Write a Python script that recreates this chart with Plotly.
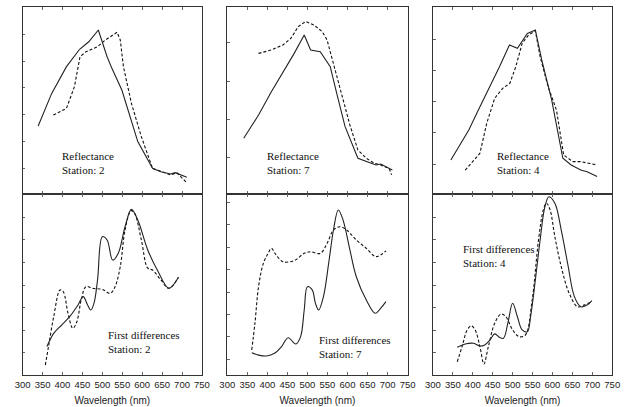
import plotly.graph_objects as go

# ---------------- data (arbitrary reflectance units) ----------------
# Station 2 reflectance
r2_sol_x = [339, 373, 410, 443, 466, 490, 512, 524, 549, 569, 589, 626, 647, 671, 683, 712]
r2_sol_y = [36.4, 53.8, 68.1, 77.4, 81.4, 87.7, 73.4, 67.2, 55.6, 41.3, 28.0, 13.7, 11.9, 10.7, 11.4, 8.9]
r2_das_x = [377, 410, 430, 444, 459, 488, 508, 537, 545, 553, 573, 598, 626, 647, 671, 687, 712]
r2_das_y = [42.2, 45.8, 57.4, 73.4, 76.1, 78.8, 82.4, 86.5, 82.4, 68.1, 48.5, 30.6, 13.7, 11.9, 10.2, 11.4, 6.0]
# Station 7 reflectance
r7_sol_x = [341, 378, 410, 443, 467, 492, 508, 532, 557, 573, 594, 626, 647, 671, 683, 712]
r7_sol_y = [29.8, 42.2, 54.7, 66.3, 75.2, 85.0, 77.0, 76.1, 68.1, 53.9, 36.0, 19.1, 17.3, 15.5, 16.0, 12.8]
r7_das_x = [378, 410, 439, 459, 477, 496, 516, 537, 549, 565, 581, 606, 626, 647, 667, 683, 704, 710]
r7_das_y = [75.2, 77.0, 79.7, 83.3, 89.5, 92.3, 90.4, 86.8, 82.4, 69.9, 57.4, 36.9, 23.5, 19.1, 16.4, 15.5, 13.7, 10.2]
# Station 4 reflectance
r4_sol_x = [345, 369, 390, 414, 439, 467, 492, 512, 537, 557, 573, 598, 626, 647, 671, 687, 712]
r4_sol_y = [18.2, 27.1, 34.2, 44.9, 55.6, 68.1, 79.7, 77.9, 85.9, 87.7, 71.7, 50.3, 19.1, 15.5, 12.8, 11.9, 9.3]
r4_das_x = [381, 402, 418, 435, 455, 475, 493, 508, 524, 540, 557, 569, 589, 610, 628, 651, 671, 691, 712]
r4_das_y = [12.8, 18.2, 21.8, 37.8, 51.2, 56.5, 59.2, 68.1, 80.6, 85.0, 87.3, 73.4, 57.4, 44.9, 20.9, 17.3, 17.3, 16.4, 15.5]

# Station 2 first differences
d2_sol_x = [361, 378, 398, 418, 439, 452, 463, 471, 479, 488, 500, 512, 526, 540, 557, 573, 589, 614, 638, 667, 691]
d2_sol_y = [15.7, 23.0, 27.6, 32.2, 38.7, 43.3, 38.7, 35.9, 39.6, 52.5, 76.4, 74.6, 63.5, 67.2, 81.9, 91.5, 85.6, 69.1, 58.0, 47.9, 54.0]
d2_das_x = [357, 365, 378, 394, 402, 414, 426, 436, 447, 459, 475, 500, 520, 532, 545, 557, 572, 581, 598, 614, 626, 647, 667, 691]
d2_das_y = [5.5, 15.7, 32.2, 47.0, 46.0, 34.1, 25.8, 29.4, 41.4, 48.8, 47.9, 47.3, 45.1, 48.8, 59.8, 80.1, 90.8, 89.3, 74.6, 59.0, 58.0, 52.5, 47.9, 54.0]
# Station 7 first differences
d7_sol_x = [361, 378, 398, 418, 435, 452, 471, 483, 492, 500, 512, 520, 528, 540, 553, 565, 577, 589, 606, 622, 647, 669, 683, 696]
d7_sol_y = [12.3, 11.0, 10.5, 12.0, 15.6, 20.6, 17.1, 21.2, 35.9, 48.8, 47.0, 39.6, 35.9, 43.3, 61.7, 80.1, 91.2, 85.6, 69.1, 54.3, 41.4, 34.1, 36.9, 40.5]
d7_das_x = [361, 369, 378, 390, 402, 410, 422, 439, 467, 492, 508, 532, 549, 565, 581, 598, 622, 647, 671, 696]
d7_das_y = [13.8, 28.6, 48.8, 61.7, 67.2, 70.0, 66.3, 62.6, 63.2, 67.2, 68.1, 67.2, 72.7, 80.1, 81.9, 80.1, 74.6, 70.0, 65.4, 68.5]
# Station 4 first differences
d4_sol_x = [361, 381, 402, 418, 430, 443, 455, 467, 477, 488, 500, 512, 524, 537, 545, 557, 569, 581, 591, 606, 622, 638, 655, 671, 687, 699]
d4_sol_y = [15.3, 17.1, 17.5, 16.0, 16.6, 19.3, 22.7, 20.8, 20.3, 28.6, 39.6, 32.2, 24.9, 23.9, 32.2, 52.5, 74.6, 93.0, 98.5, 94.9, 80.1, 61.7, 43.3, 37.7, 38.7, 41.1]
d4_das_x = [361, 373, 386, 396, 406, 418, 428, 439, 455, 471, 483, 500, 516, 532, 549, 565, 577, 585, 594, 606, 622, 642, 663, 679, 699]
d4_das_y = [7.3, 15.6, 24.9, 27.1, 24.9, 15.6, 6.1, 15.6, 28.6, 33.7, 32.2, 24.9, 21.2, 22.1, 41.4, 74.6, 91.2, 94.9, 91.2, 76.4, 59.8, 45.1, 37.7, 38.7, 40.5]

top_labels = ["Reflectance<br>Station: 2", "Reflectance<br>Station: 7", "Reflectance<br>Station: 4"]
bot_labels = ["First differences<br>Station: 2", "First differences<br>Station: 7", "First differences<br>Station: 4"]
x_ticks = [300, 350, 400, 450, 500, 550, 600, 650, 700, 750]

# ---------------- figure ----------------
W, H = 630, 407
fig = go.Figure()

panels = [
    (r2_sol_x, r2_sol_y, r2_das_x, r2_das_y, "linear"),
    (r7_sol_x, r7_sol_y, r7_das_x, r7_das_y, "linear"),
    (r4_sol_x, r4_sol_y, r4_das_x, r4_das_y, "linear"),
    (d2_sol_x, d2_sol_y, d2_das_x, d2_das_y, "spline"),
    (d7_sol_x, d7_sol_y, d7_das_x, d7_das_y, "spline"),
    (d4_sol_x, d4_sol_y, d4_das_x, d4_das_y, "spline"),
]

col_px = [(15, 199), (225, 410), (436, 620)]
row_px = [(7, 194), (194, 375)]

# left / right tick (tick0, dtick) per panel
left_ticks = [(13.9, 14.3), (19.3, 20.5), (16.0, 16.7), (12.2, 12.5), (21.0, 12.4), (12.2, 12.5)]
right_ticks = [(16.0, 16.7), (19.3, 19.8), (2.1, 19.1), (12.2, 16.9), (22.1, 22.1), (12.2, 12.5)]

line_col = "#333333"
layout = dict(
    width=W, height=H, margin=dict(l=0, r=0, t=0, b=0),
    paper_bgcolor="white", plot_bgcolor="white", showlegend=False,
)

for i, (sx, sy, dx, dy, shape) in enumerate(panels):
    n = i + 1
    xa = "x" if n == 1 else f"x{n}"
    ya = "y" if n == 1 else f"y{n}"
    fig.add_trace(go.Scatter(x=dx, y=dy, mode="lines", xaxis=xa, yaxis=ya,
                             line=dict(color="#111111", width=1.1, dash="3px,2px", shape=shape),
                             hoverinfo="skip"))
    fig.add_trace(go.Scatter(x=sx, y=sy, mode="lines", xaxis=xa, yaxis=ya,
                             line=dict(color="#222222", width=1.1, shape=shape),
                             hoverinfo="skip"))
    c = i % 3
    r = i // 3
    x0, x1 = col_px[c]
    y0, y1 = row_px[r]
    xdom = [x0 / W, x1 / W]
    ydom = [1 - y1 / H, 1 - y0 / H]
    bottom = r == 1
    layout[f"xaxis{n}" if n > 1 else "xaxis"] = dict(
        domain=xdom, range=[300, 750], anchor=ya,
        showline=True, linecolor=line_col, linewidth=1.2, mirror="ticks",
        ticks="inside", ticklen=2.5, tickcolor="#666666", tickwidth=1,
        tickvals=x_ticks, showticklabels=bottom, showgrid=False, zeroline=False,
        tickangle=0,
        tickfont=dict(family="Liberation Sans Narrow, Liberation Sans, Arial, sans-serif", size=9.5, color="#222222"),
        title=dict(text="Wavelength (nm)" if bottom else "",
                   font=dict(family="Liberation Sans, Arial, sans-serif", size=10, color="#222222"),
                   standoff=8),
    )
    t0, dt = left_ticks[i]
    layout[f"yaxis{n}" if n > 1 else "yaxis"] = dict(
        domain=ydom, range=[0, 100], anchor=xa,
        showline=True, linecolor=line_col, linewidth=1.2, mirror=True,
        ticks="inside", ticklen=2.5, tickcolor="#666666", tickwidth=1,
        tick0=t0, dtick=dt, showticklabels=False, showgrid=False, zeroline=False,
    )
    rt0, rdt = right_ticks[i]
    layout[f"yaxis{n + 6}"] = dict(
        overlaying=ya, side="right", anchor=xa, range=[0, 100],
        showline=False, ticks="inside", ticklen=2.5, tickcolor="#666666", tickwidth=1,
        tick0=rt0, dtick=rdt, showticklabels=False, showgrid=False, zeroline=False,
    )

fig.update_layout(**layout)

ann_font = dict(family="Liberation Serif, Times New Roman, serif", size=11, color="#111111")
top_pos = [(393, 16.8), (395, 16.8), (457, 16.8)]
bot_pos = [(510, 18.5), (525, 15.2), (371, 66.0)]
for c in range(3):
    n = c + 1
    fig.add_annotation(text=top_labels[c], xref="x" if n == 1 else f"x{n}", yref="y" if n == 1 else f"y{n}",
                       x=top_pos[c][0], y=top_pos[c][1], xanchor="left", yanchor="middle",
                       showarrow=False, align="left", font=ann_font)
    n2 = c + 4
    fig.add_annotation(text=bot_labels[c], xref=f"x{n2}", yref=f"y{n2}",
                       x=bot_pos[c][0], y=bot_pos[c][1], xanchor="left", yanchor="middle",
                       showarrow=False, align="left", font=ann_font)

fig.write_html("out.html", config={"displayModeBar": False},
               post_script="document.body.style.margin='0';document.body.style.overflow='hidden';")
